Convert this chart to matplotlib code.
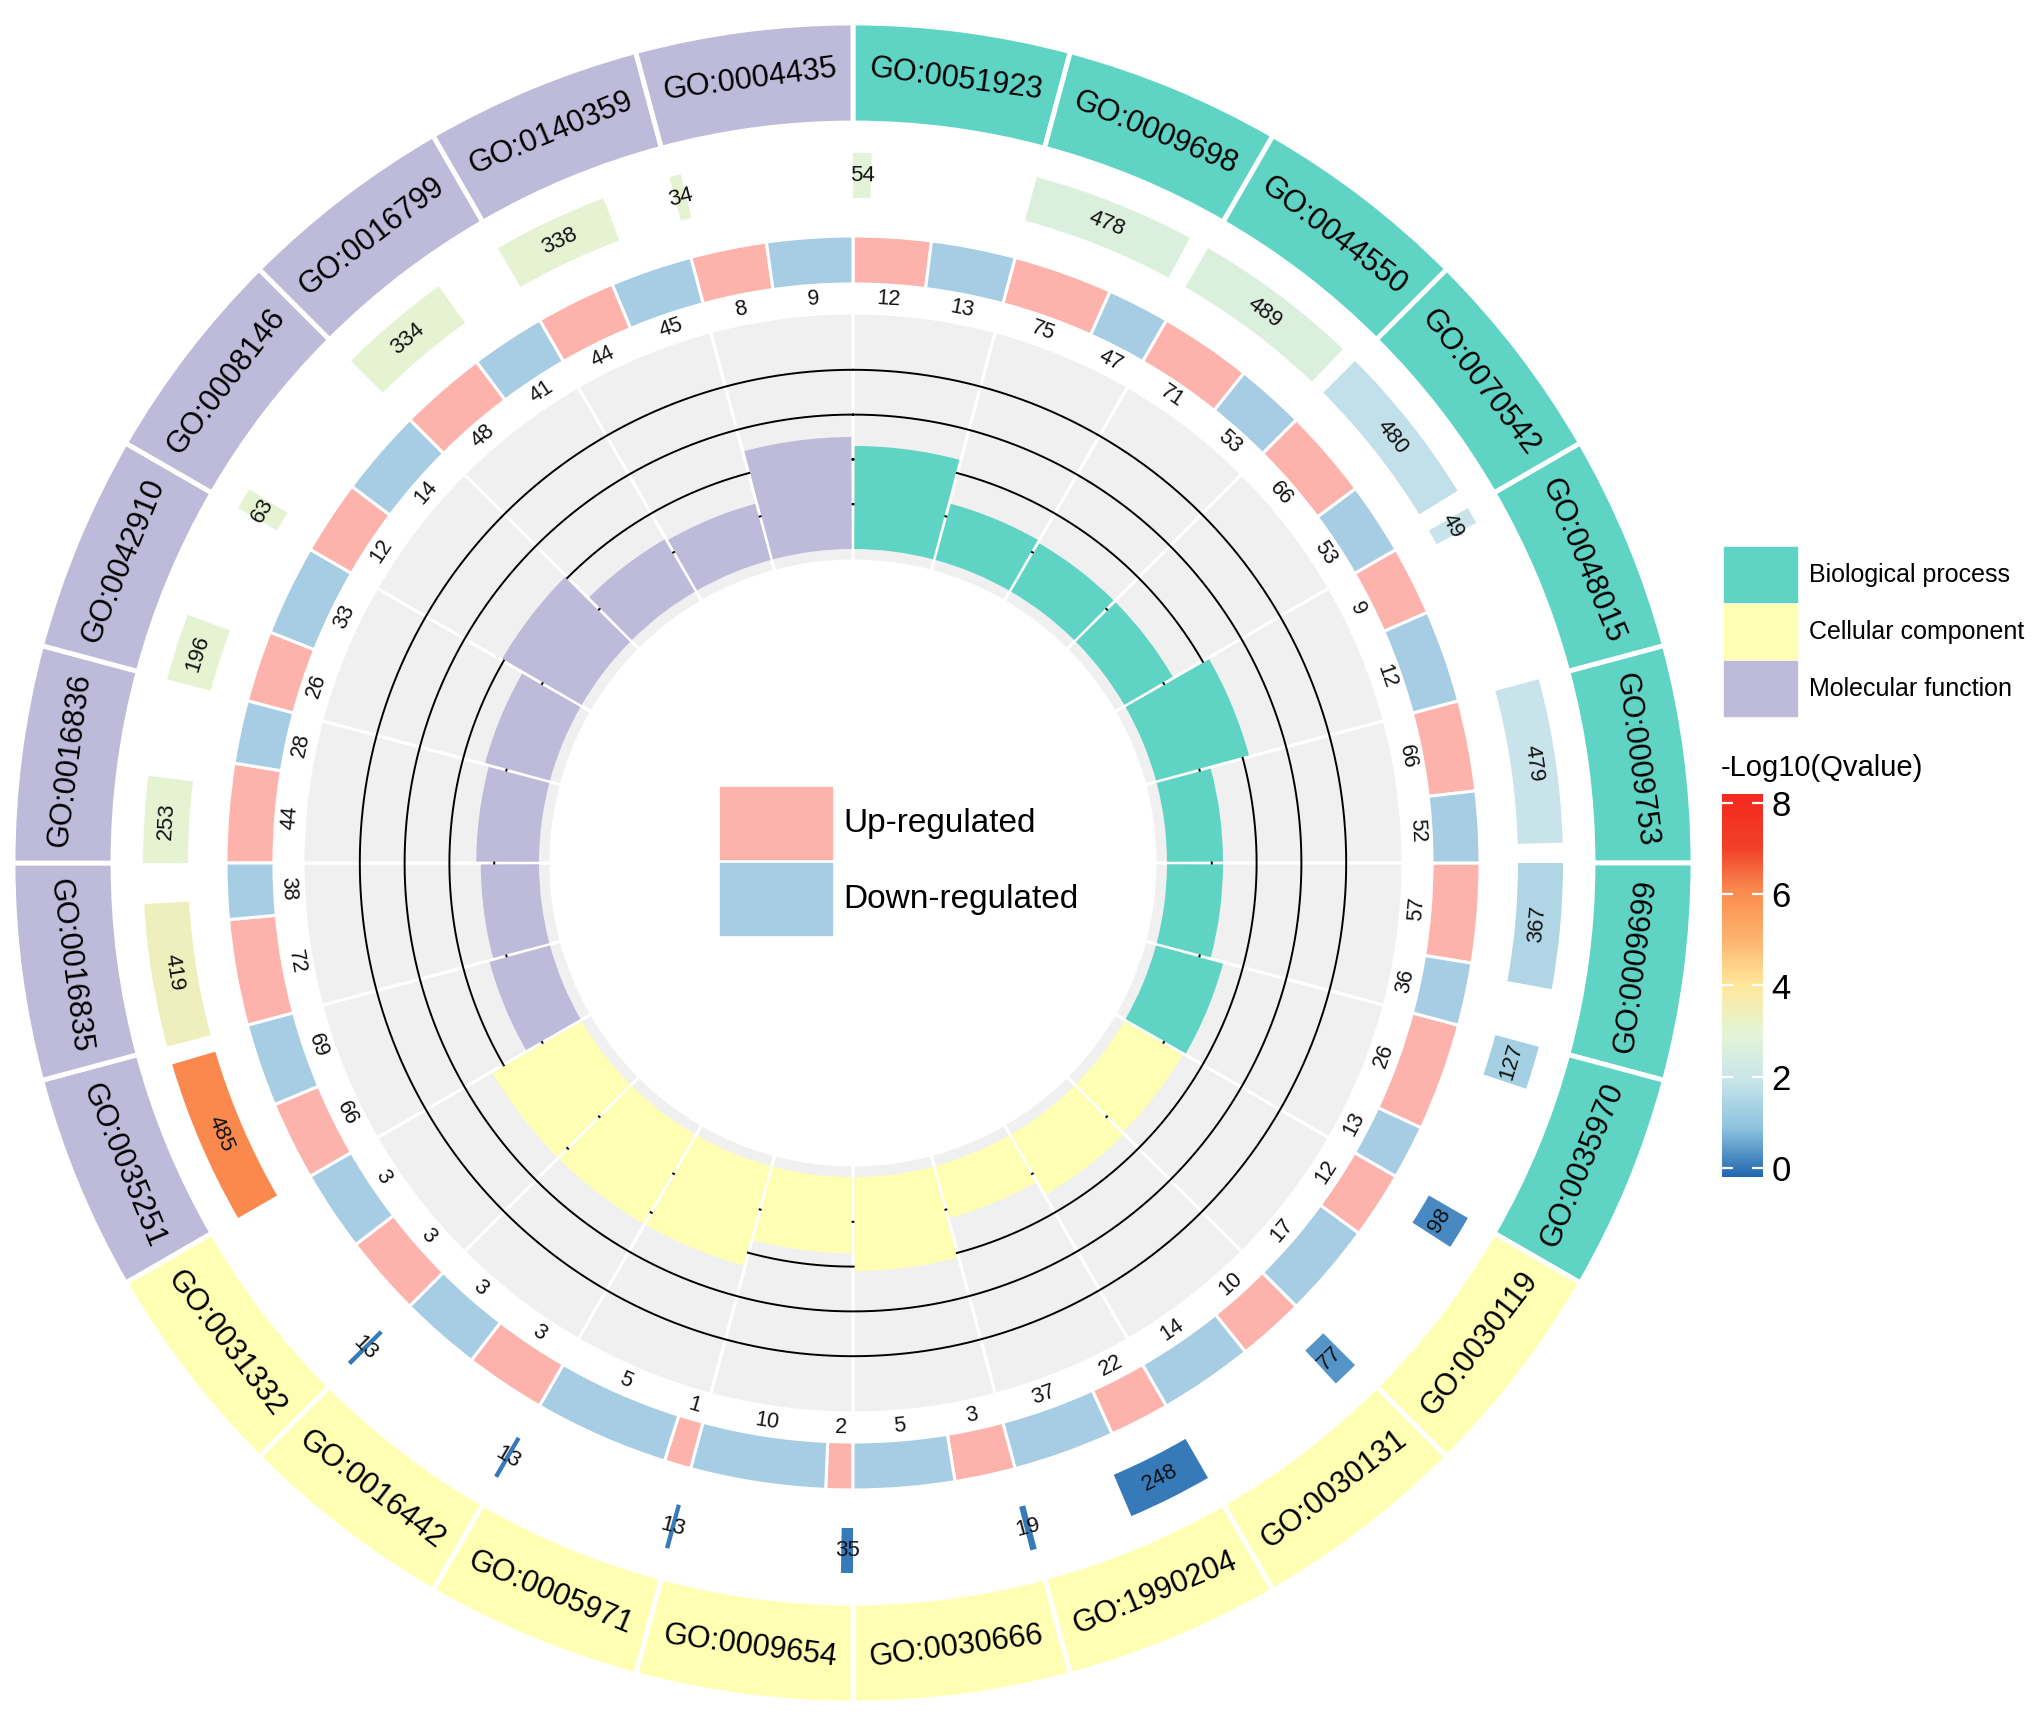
import numpy as np
import matplotlib
matplotlib.use("Agg")
import matplotlib.pyplot as plt
from matplotlib.colors import LinearSegmentedColormap, Normalize
from matplotlib.patches import Rectangle
from matplotlib.cm import ScalarMappable

plt.rcParams['font.family'] = ['Liberation Sans', 'DejaVu Sans']

# ---------------- data (clockwise from 12 o'clock) ----------------
go_ids = ["GO:0051923", "GO:0009698", "GO:0044550", "GO:0070542", "GO:0048015",
          "GO:0009753", "GO:0009699", "GO:0035970",
          "GO:0030119", "GO:0030131", "GO:1990204", "GO:0030666", "GO:0009654",
          "GO:0005971", "GO:0016442", "GO:0031332",
          "GO:0035251", "GO:0016835", "GO:0016836", "GO:0042910", "GO:0008146",
          "GO:0016799", "GO:0140359", "GO:0004435"]
ontology = ["Biological process"] * 8 + ["Cellular component"] * 8 + ["Molecular function"] * 8
gene_num = [54, 478, 489, 480, 49, 479, 367, 127,
            98, 77, 248, 19, 35, 13, 13, 13,
            485, 419, 253, 196, 63, 334, 338, 34]
neg_log10_q = [2.9, 2.6, 2.6, 1.8, 1.9, 1.9, 1.5, 1.3,
               0.2, 0.35, 0.05, 0.05, 0.05, 0.05, 0.05, 0.05,
               6.1, 3.4, 3.0, 3.0, 3.0, 3.0, 3.0, 3.0]
up_num = [12, 75, 71, 66, 9, 66, 57, 26,
          12, 10, 22, 3, 2, 1, 3, 3,
          66, 72, 44, 26, 12, 48, 44, 8]
down_num = [13, 47, 53, 53, 12, 52, 36, 13,
            17, 14, 37, 5, 10, 5, 3, 3,
            69, 38, 28, 33, 14, 41, 45, 9]
rich_factor = [0.46, 0.26, 0.25, 0.25, 0.43, 0.25, 0.25, 0.31,
               0.30, 0.31, 0.24, 0.42, 0.34, 0.46, 0.46, 0.46,
               0.28, 0.26, 0.28, 0.30, 0.41, 0.27, 0.26, 0.50]
rf_grid = [0.2, 0.4, 0.6, 0.8]
cbar_ticks = [0, 2, 4, 6, 8]

# ---------------- styles ----------------
cat_colors = {"Biological process": "#5fd4c4",
              "Cellular component": "#ffffb3",
              "Molecular function": "#bebada"}
up_color = "#fdb2ac"
down_color = "#a7cde4"
grey_bg = "#f0f0f0"
q_cmap = LinearSegmentedColormap.from_list(
    "q", [(0.0, "#1e66ae"), (0.125, "#8cc2de"), (0.25, "#c8e4ea"),
          (0.375, "#e4f4d6"), (0.5, "#fee89b"), (0.625, "#fdb36d"),
          (0.75, "#fb8a4e"), (0.86, "#f0402a"), (1.0, "#f5281d")])
q_norm = Normalize(vmin=-0.2, vmax=8.2)

W, H = 2044, 1717
CX, CY = 853, 863          # pixel centre (from top)
RLIM = 850
# radii (pixel units in polar axes)
R_OUTER = (740, 840)
R_COUNT = (665, 710)
R_UPDN = (579, 627)
R_NUM = 565
R_GREY = (302, 550)
RF0, RF_SCALE = 314, 224
COUNT_MAX = 538.0

fig = plt.figure(figsize=(W / 100, H / 100), dpi=100)
ax = fig.add_axes([(CX - RLIM) / W, (H - CY - RLIM) / H, 2 * RLIM / W, 2 * RLIM / H],
                  projection='polar')
ax.set_theta_zero_location('N')
ax.set_theta_direction(-1)
ax.set_ylim(0, RLIM)
ax.set_axis_off()

n = len(go_ids)
w = 2 * np.pi / n
theta0 = np.arange(n) * w
colors = [cat_colors[o] for o in ontology]


def tan_rot(theta_rad):
    d = np.degrees(theta_rad) % 360
    if 90 < d < 270:
        return 180 - d
    return -d


# grey panel with white sector separators
ax.bar(theta0, R_GREY[1] - R_GREY[0], width=w, bottom=R_GREY[0], align='edge',
       color=grey_bg, edgecolor='white', linewidth=2.2, zorder=1)

# rich-factor grid circles
tt = np.linspace(0, 2 * np.pi, 1441)
for g in rf_grid:
    ax.plot(tt, np.full_like(tt, RF0 + RF_SCALE * g), color='black', lw=1.4, zorder=2)

# rich-factor bars
gap = np.radians(0.45)
ax.bar(theta0 + w / 2, [RF_SCALE * v for v in rich_factor], width=w - gap, bottom=RF0,
       align='center', color=colors, edgecolor='none', zorder=3)

# up / down track
up_arr = np.array(up_num, float)
dn_arr = np.array(down_num, float)
frac_up = up_arr / (up_arr + dn_arr)
ax.bar(theta0, R_UPDN[1] - R_UPDN[0], width=w * frac_up, bottom=R_UPDN[0], align='edge',
       color=up_color, edgecolor='white', linewidth=2.2, zorder=3)
ax.bar(theta0 + w * frac_up, R_UPDN[1] - R_UPDN[0], width=w * (1 - frac_up),
       bottom=R_UPDN[0], align='edge', color=down_color, edgecolor='white',
       linewidth=2.2, zorder=3)
for i in range(n):
    tu = theta0[i] + w * frac_up[i] / 2
    td = theta0[i] + w * frac_up[i] + w * (1 - frac_up[i]) / 2
    ax.text(tu, R_NUM, str(up_num[i]), rotation=tan_rot(tu), rotation_mode='anchor',
            ha='center', va='center', fontsize=15.5, color='#111111', zorder=5)
    ax.text(td, R_NUM, str(down_num[i]), rotation=tan_rot(td), rotation_mode='anchor',
            ha='center', va='center', fontsize=15.5, color='#111111', zorder=5)

# gene-number track coloured by -log10(Q)
cw = w * np.array(gene_num, float) / COUNT_MAX
ax.bar(theta0, R_COUNT[1] - R_COUNT[0], width=cw, bottom=R_COUNT[0], align='edge',
       color=[q_cmap(q_norm(q)) for q in neg_log10_q], edgecolor='none', zorder=3)
for i in range(n):
    tc = theta0[i] + cw[i] / 2
    ax.text(tc, (R_COUNT[0] + R_COUNT[1]) / 2, str(gene_num[i]), rotation=tan_rot(tc),
            rotation_mode='anchor', ha='center', va='center', fontsize=16,
            color='#111111', zorder=5)

# outer GO ring
ax.bar(theta0, R_OUTER[1] - R_OUTER[0], width=w, bottom=R_OUTER[0], align='edge',
       color=colors, edgecolor='white', linewidth=3.5, zorder=3)
for i in range(n):
    tc = theta0[i] + w / 2
    ax.text(tc, (R_OUTER[0] + R_OUTER[1]) / 2, go_ids[i], rotation=tan_rot(tc),
            rotation_mode='anchor', ha='center', va='center', fontsize=22,
            color='black', zorder=5)

# ---------------- legends ----------------
lax = fig.add_axes([0, 0, 1, 1])
lax.set_xlim(0, W)
lax.set_ylim(H, 0)
lax.set_axis_off()

# centre legend
lax.add_patch(Rectangle((720, 787), 112, 72, color=up_color))
lax.add_patch(Rectangle((720, 863), 112, 72, color=down_color))
lax.text(843, 823, "Up-regulated", fontsize=24, va='center', ha='left')
lax.text(843, 899, "Down-regulated", fontsize=24, va='center', ha='left')

# ontology legend
for k, name in enumerate(["Biological process", "Cellular component", "Molecular function"]):
    y0 = 547 + k * 57
    lax.add_patch(Rectangle((1724, y0), 73, 55, color=cat_colors[name]))
    lax.text(1809, y0 + 28, name, fontsize=18, va='center', ha='left')

lax.text(1721, 768, "-Log10(Qvalue)", fontsize=21, va='center', ha='left')

cax = fig.add_axes([1722 / W, (H - 1177) / H, 41 / W, (1177 - 794) / H])
sm = ScalarMappable(norm=q_norm, cmap=q_cmap)
cbar = fig.colorbar(sm, cax=cax, ticks=cbar_ticks)
cbar.outline.set_visible(False)
cax.minorticks_off()
cax.tick_params(axis='y', direction='in', length=8, width=1.6, color='white',
                labelsize=25, labelcolor='black', left=True, right=True,
                labelleft=False, labelright=True, pad=6)

fig.savefig("out.png", dpi=100, facecolor='white')
